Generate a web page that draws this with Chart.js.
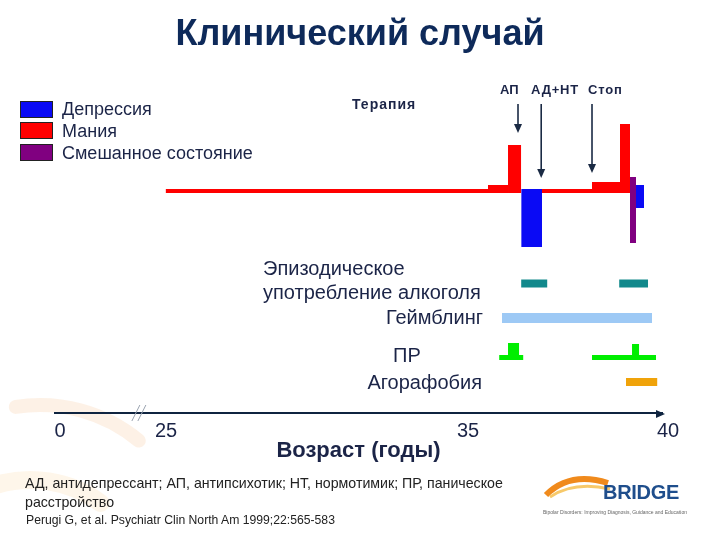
<!DOCTYPE html>
<html>
<head>
<meta charset="utf-8">
<script src="https://cdn.jsdelivr.net/npm/chart.js@4.4.1/dist/chart.umd.min.js"></script>
<style>
body { margin: 0; background: #fff; font-family: "Liberation Sans", Arial, sans-serif; }
#wrap { position: relative; width: 720px; height: 540px; overflow: hidden; background: #fff; }
#chart { position: absolute; left: 0; top: 0; }
.t { position: absolute; line-height: 1; white-space: nowrap; transform: translateY(-50%); color: #1b2447; }
.box { position: absolute; left: 20px; width: 31px; height: 15px; border: 1px solid #222; }
</style>
</head>
<body>
<div id="wrap">
  <canvas id="chart" width="720" height="540"></canvas>

  <div class="t" style="left:0;width:720px;text-align:center;top:33px;font-size:36px;font-weight:bold;color:#0e2a5a;">Клинический случай</div>

  <div class="box" style="top:101px;background:#0a0af5;"></div>
  <div class="box" style="top:122px;background:#ff0000;"></div>
  <div class="box" style="top:144px;background:#800080;"></div>
  <div class="t" style="left:62px;top:109px;font-size:18px;">Депрессия</div>
  <div class="t" style="left:62px;top:131px;font-size:18px;">Мания</div>
  <div class="t" style="left:62px;top:153px;font-size:18px;">Смешанное состояние</div>

  <div class="t" style="left:352px;top:104px;font-size:14px;font-weight:bold;letter-spacing:1px;">Терапия</div>
  <div class="t" style="left:500px;top:89px;font-size:13px;font-weight:bold;">АП</div>
  <div class="t" style="left:531px;top:89px;font-size:13px;font-weight:bold;letter-spacing:0.8px;">АД+НТ</div>
  <div class="t" style="left:588px;top:89px;font-size:13px;font-weight:bold;letter-spacing:0.8px;">Стоп</div>

  <div class="t" style="left:263px;top:268px;font-size:20px;">Эпизодическое</div>
  <div class="t" style="left:263px;top:292px;font-size:20px;">употребление алкоголя</div>
  <div class="t" style="right:237px;top:317px;font-size:20px;">Геймблинг</div>
  <div class="t" style="left:393px;top:355px;font-size:20px;">ПР</div>
  <div class="t" style="right:238px;top:382px;font-size:20px;">Агорафобия</div>

  <div class="t" style="left:25px;top:483px;font-size:14.2px;color:#222;">АД, антидепрессант; АП, антипсихотик; НТ, нормотимик; ПР, паническое</div>
  <div class="t" style="left:25px;top:502px;font-size:14.2px;color:#222;">расстройство</div>
  <div class="t" style="left:26px;top:520px;font-size:12.2px;color:#222;">Perugi G, et al. Psychiatr Clin North Am 1999;22:565-583</div>

  <svg style="position:absolute;left:540px;top:465px;" width="80" height="40">
    <path d="M6 30 Q 30 6 68 18" stroke="#f08a1c" stroke-width="6" fill="none"/>
    <path d="M10 32 Q 34 16 70 24" stroke="#f7c96a" stroke-width="3" fill="none"/>
  </svg>
  <div class="t" style="left:603px;top:492px;font-size:20px;font-weight:bold;color:#1f4e8c;letter-spacing:-0.3px;">BRIDGE</div>
  <div class="t" style="left:543px;top:512px;font-size:5px;color:#666;">Bipolar Disorders: Improving Diagnosis, Guidance and Education</div>
</div>

<script>
// шкала возраста (с разрывом между 0 и 25)
const axisAges = [0, 25, 35, 40];
const axisFracs = [0.0082, 0.1829, 0.6804, 1.0099];

// эпизоды настроения: начало, конец, нижняя и верхняя граница
const moodStart = [24.9, 35.5, 36.0, 36.33, 36.85, 38.1, 38.8, 39.05, 39.2];
const moodEnd   = [35.5, 36.0, 36.33, 36.85, 38.1, 38.85, 39.05, 39.2, 39.4];
const moodHigh  = [0.2, 0.6, 4.6, 0.2, 0.2, 0.9, 6.7, 1.4, 0.6];
const moodLow   = [-0.2, -0.2, -0.2, -5.6, -0.2, -0.2, -0.2, -5.2, -1.7];
const moodState = ['Мания', 'Мания', 'Мания', 'Депрессия', 'Мания', 'Мания', 'Мания', 'Смешанное состояние', 'Депрессия'];

// терапия
const therapyAges = [36.25, 36.83, 38.1];
const therapyLabels = ['АП', 'АД+НТ', 'Стоп'];

// коморбидность
const alcoholStart = [36.33, 38.78];
const alcoholEnd   = [36.98, 39.5];
const gamblingStart = [35.85];
const gamblingEnd   = [39.6];
const panicStart = [35.78, 38.1];
const panicEnd   = [36.38, 39.7];
const panicPeakStart = [36.0, 39.1];
const panicPeakEnd   = [36.28, 39.28];
const panicPeakHeight = [1.45, 1.35];
const agoraStart = [38.95];
const agoraEnd   = [39.73];

// раскладка по вертикали
const rowLevel = { alcohol: -9.25, gambling: -12.7, panic: -16.65, agora: -19.1 };
const arrowTop = 8.7;
const arrowTips = [5.8, 1.3, 1.8];
const breakAge = 18.6;

const moodColors = {
    'Депрессия': '#0a0af5',
    'Мания': '#ff0000',
    'Смешанное состояние': '#800080'
};

function ageToFrac(v) {
    for (let i = 1; i < axisAges.length; i++) {
        if (v <= axisAges[i] || i === axisAges.length - 1) {
            const a = axisAges[i - 1], b = axisAges[i];
            return axisFracs[i - 1] + (v - a) / (b - a) * (axisFracs[i] - axisFracs[i - 1]);
        }
    }
}
function fracToAge(f) {
    for (let i = 1; i < axisFracs.length; i++) {
        if (f <= axisFracs[i] || i === axisFracs.length - 1) {
            const a = axisFracs[i - 1], b = axisFracs[i];
            return axisAges[i - 1] + (f - a) / (b - a) * (axisAges[i] - axisAges[i - 1]);
        }
    }
}

class BrokenAgeScale extends Chart.LinearScale {
    getPixelForValue(value) {
        return this.getPixelForDecimal(ageToFrac(value));
    }
    getValueForPixel(pixel) {
        return fracToAge(this.getDecimalForPixel(pixel));
    }
}
BrokenAgeScale.id = 'brokenAge';
BrokenAgeScale.defaults = Chart.LinearScale.defaults;
Chart.register(BrokenAgeScale);

function intervalPoints(starts, ends, level) {
    const pts = [];
    starts.forEach((s, i) => {
        if (i) pts.push({ x: (ends[i - 1] + s) / 2, y: null });
        pts.push({ x: s, y: level }, { x: ends[i], y: level });
    });
    return pts;
}

const datasets = [];

moodStart.forEach((s, i) => {
    datasets.push({
        label: moodState[i],
        data: [{ x: s, y: moodHigh[i] }, { x: moodEnd[i], y: moodHigh[i] }],
        fill: { value: moodLow[i] },
        backgroundColor: moodColors[moodState[i]],
        borderColor: 'rgba(0,0,0,0)',
        borderWidth: 0,
        pointRadius: 0
    });
});

function rowDataset(label, starts, ends, level, color, thickness) {
    return {
        label: label,
        data: intervalPoints(starts, ends, level),
        borderColor: color,
        borderWidth: thickness,
        borderCapStyle: 'butt',
        fill: false,
        spanGaps: false,
        pointRadius: 0
    };
}

datasets.push(rowDataset('Эпизодическое употребление алкоголя', alcoholStart, alcoholEnd, rowLevel.alcohol, '#12898c', 8));
datasets.push(rowDataset('Геймблинг', gamblingStart, gamblingEnd, rowLevel.gambling, '#9dc9f5', 10));
datasets.push(rowDataset('ПР', panicStart, panicEnd, rowLevel.panic, '#00ee00', 5));
panicPeakStart.forEach((s, i) => {
    const top = rowLevel.panic + panicPeakHeight[i];
    datasets.push({
        label: 'ПР',
        data: [{ x: s, y: top }, { x: panicPeakEnd[i], y: top }],
        fill: { value: rowLevel.panic },
        backgroundColor: '#00ee00',
        borderColor: 'rgba(0,0,0,0)',
        borderWidth: 0,
        pointRadius: 0
    });
});
datasets.push(rowDataset('Агорафобия', agoraStart, agoraEnd, rowLevel.agora, '#f0a30a', 8));

const decor = {
    id: 'decor',
    beforeDraw(chart) {
        // бледный водяной знак в левом нижнем углу
        const ctx = chart.ctx;
        ctx.save();
        ctx.lineCap = 'round';
        ctx.strokeStyle = 'rgba(248, 190, 140, 0.22)';
        ctx.lineWidth = 14;
        ctx.beginPath();
        ctx.arc(40, 560, 155, -Math.PI * 0.55, -Math.PI * 0.28);
        ctx.stroke();
        ctx.strokeStyle = 'rgba(250, 215, 160, 0.22)';
        ctx.lineWidth = 18;
        ctx.beginPath();
        ctx.arc(30, 600, 120, -Math.PI * 0.6, -Math.PI * 0.3);
        ctx.stroke();
        ctx.restore();
    },
    afterDraw(chart) {
        const ctx = chart.ctx;
        const x = chart.scales.x, y = chart.scales.y;
        const area = chart.chartArea;
        ctx.save();
        // стрелка оси
        ctx.fillStyle = '#0f2440';
        ctx.beginPath();
        ctx.moveTo(area.right + 3, area.bottom + 1);
        ctx.lineTo(area.right - 6, area.bottom - 3);
        ctx.lineTo(area.right - 6, area.bottom + 5);
        ctx.closePath();
        ctx.fill();
        // разрыв оси
        const bx = x.getPixelForValue(breakAge);
        ctx.strokeStyle = '#9aa3b0';
        ctx.lineWidth = 1;
        [-3, 3].forEach(dx => {
            ctx.beginPath();
            ctx.moveTo(bx + dx - 4, area.bottom + 8);
            ctx.lineTo(bx + dx + 4, area.bottom - 8);
            ctx.stroke();
        });
        // стрелки терапии
        ctx.strokeStyle = '#1a2a44';
        ctx.fillStyle = '#1a2a44';
        ctx.lineWidth = 1.6;
        therapyAges.forEach((age, i) => {
            const px = x.getPixelForValue(age);
            const y0 = y.getPixelForValue(arrowTop);
            const y1 = y.getPixelForValue(arrowTips[i]);
            ctx.beginPath();
            ctx.moveTo(px, y0);
            ctx.lineTo(px, y1 - 8);
            ctx.stroke();
            ctx.beginPath();
            ctx.moveTo(px, y1);
            ctx.lineTo(px - 4, y1 - 9);
            ctx.lineTo(px + 4, y1 - 9);
            ctx.closePath();
            ctx.fill();
        });
        ctx.restore();
    }
};

new Chart(document.getElementById('chart'), {
    type: 'line',
    data: { datasets: datasets },
    options: {
        responsive: false,
        animation: false,
        layout: { padding: { left: 55, right: 58, top: 100, bottom: 75.6 } },
        plugins: {
            legend: { display: false },
            tooltip: { enabled: false }
        },
        scales: {
            x: {
                type: 'brokenAge',
                min: 0,
                max: 40,
                afterBuildTicks: axis => { axis.ticks = axisAges.map(v => ({ value: v })); },
                grid: { display: false, drawTicks: false },
                border: { display: true, color: '#0f2440', width: 2 },
                ticks: {
                    autoSkip: false,
                    maxRotation: 0,
                    padding: 6,
                    color: '#1b2447',
                    font: { family: '"Liberation Sans", Arial, sans-serif', size: 20 },
                    callback: v => String(v)
                },
                title: {
                    display: true,
                    text: 'Возраст (годы)',
                    color: '#1b2447',
                    padding: { top: -11, bottom: 0 },
                    font: { family: '"Liberation Sans", Arial, sans-serif', size: 22, weight: 'bold' }
                }
            },
            y: {
                type: 'linear',
                display: false,
                min: -22.2,
                max: 9.1
            }
        }
    },
    plugins: [decor]
});
</script>
</body>
</html>
